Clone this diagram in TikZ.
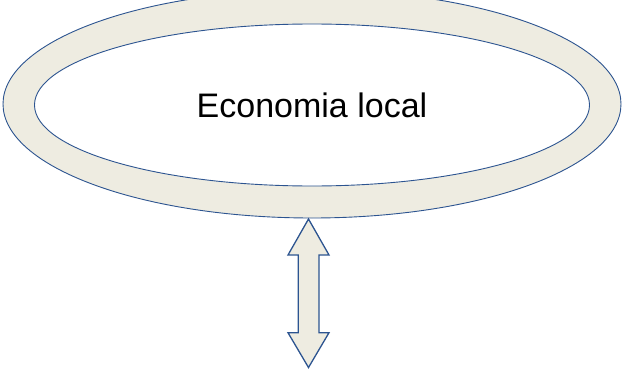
\documentclass[tikz,border=0pt]{standalone}
\usepackage{fontspec}
\setmainfont{Liberation Sans}
\usetikzlibrary{shapes.geometric}
\definecolor{ringfill}{HTML}{EEECE1}
\definecolor{ringline}{HTML}{2C5490}
\tikzset{
  ringshape/.style={ellipse, draw=ringline, line width=0.9pt, inner sep=0pt},
  arrowshape/.style={draw=ringline, fill=ringfill, line width=1.3pt, line join=miter}
}
\begin{document}
\begin{tikzpicture}[x=1pt,y=1pt]
\useasboundingbox (0,0) rectangle (622,368);
\clip (0,0) rectangle (622,368);
\node[ringshape, fill=ringfill, minimum width=618pt, minimum height=228pt] (outer) at (312,264) {};
\node[ringshape, fill=white, minimum width=555pt, minimum height=162pt, font=\fontsize{34}{40}\selectfont] (inner) at (312,263) {Economia local};
\coordinate (top) at (308.5,149);
\coordinate (bot) at (308.5,0.5);
\draw[arrowshape] (top) -- (329,113) -- (319,113) -- (319,35.3) -- (329,35.3) -- (bot)
  -- (288,35.3) -- (298.3,35.3) -- (298.3,113) -- (288,113) -- cycle;
\end{tikzpicture}
\end{document}
